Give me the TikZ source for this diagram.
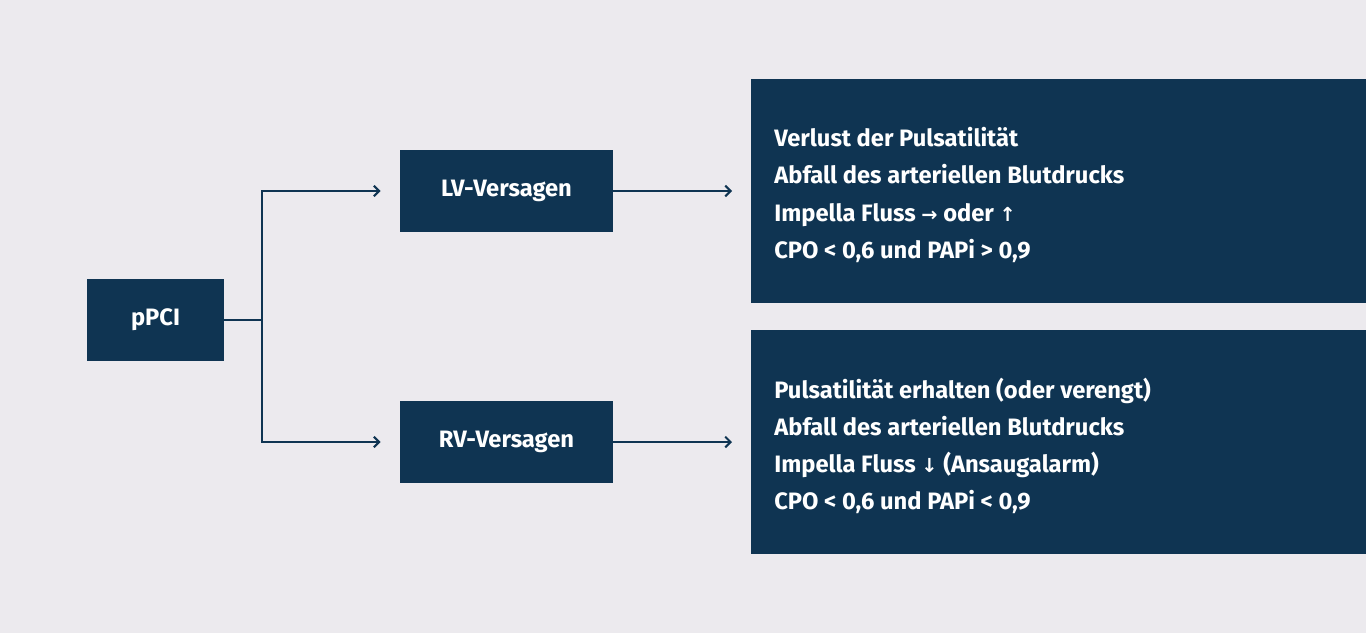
\documentclass[tikz,border=0pt]{standalone}
\usepackage{fontspec}
\setmainfont{Fira Sans}
\newfontfamily\arrowfont{DejaVu Sans}
\usetikzlibrary{arrows.meta,positioning}
\definecolor{navy}{HTML}{0F3452}
\definecolor{paper}{HTML}{ECEAEE}
\newcommand{\arr}[1]{{\arrowfont\fontsize{11}{13}\selectfont #1}}
\begin{document}
\begin{tikzpicture}[x=0.02cm,y=-0.02cm,
    box/.style={fill=navy, text=white, font=\bfseries\fontsize{13.5}{16}\selectfont, inner sep=0pt},
    info/.style={box, anchor=north west, align=left, text width=12.4cm, minimum width=12.3cm, minimum height=4.48cm, inner sep=0pt, execute at begin node={\setlength{\baselineskip}{0.9cm}}},
    link/.style={navy, line width=1.2pt, -{Straight Barb[length=3pt,width=6pt]}}]

    % Background
    \fill[paper] (0,0) rectangle (1366,633);
    \useasboundingbox (0,0) rectangle (1366,633);

    % Boxes
    \node[box, minimum width=2.74cm, minimum height=1.64cm] (ppci) at (155.5,320) {pPCI};
    \node[box, minimum width=4.26cm, minimum height=1.64cm] (lv) at (506.5,191) {LV-Versagen};
    \node[box, minimum width=4.26cm, minimum height=1.64cm] (rv) at (506.5,442) {RV-Versagen};

    % Info panels
    \fill[navy] (751,79) rectangle (1366,303);
    \fill[navy] (751,330) rectangle (1366,554);
    \node[box, anchor=west, align=left] (lvinfo) at (774,195) {%
      \rule{0pt}{0pt}Verlust der Pulsatilität\\[0.18cm]
      Abfall des arteriellen Blutdrucks\\[0.18cm]
      Impella Fluss \arr{→} oder \arr{↑}\\[0.18cm]
      CPO < 0,6 und PAPi > 0,9};
    \node[box, anchor=west, align=left] (rvinfo) at (774,446) {%
      Pulsatilität erhalten (oder verengt)\\[0.18cm]
      Abfall des arteriellen Blutdrucks\\[0.18cm]
      Impella Fluss \arr{↓} (Ansaugalarm)\\[0.18cm]
      CPO < 0,6 und PAPi < 0,9};
    \coordinate (lvend) at (732,191);
    \coordinate (rvend) at (732,442);
    \coordinate (split) at (262,320);

    % Connectors
    \draw[navy, line width=1.2pt] (ppci.east) -- (split);
    \draw[link] (split) |- ([xshift=-0.38cm]lv.west);
    \draw[link] (split) |- ([xshift=-0.38cm]rv.west);
    \draw[link] (lv.east) -- (lvend);
    \draw[link] (rv.east) -- (rvend);
\end{tikzpicture}
\end{document}
